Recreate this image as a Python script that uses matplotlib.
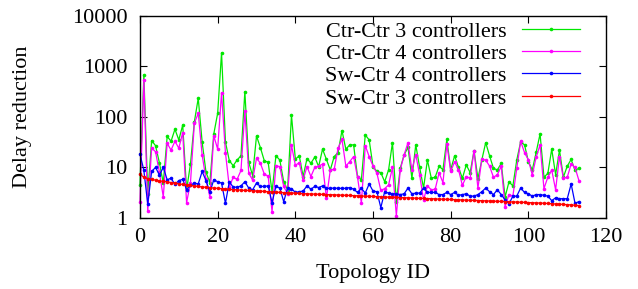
import matplotlib
matplotlib.use("Agg")
import matplotlib.pyplot as plt
import numpy as np

ctr_ctr_3 = [4.5, 680, 3.0, 34, 27, 12.4, 4.9, 41, 33, 57, 35, 69, 3.6, 11.7, 80, 234, 32, 8, 5, 46,
             118, 1870, 32, 13.6, 10.8, 14, 17, 317, 12.6, 6.9, 42, 24.6, 13.6, 12.6, 3.3, 17, 14, 5.2, 3.6, 109,
             14.5, 17, 6.6, 15, 12.1, 16, 10.4, 23, 14.4, 8.9, 16.4, 19.7, 53.6, 23, 27.9, 27.9, 6.6, 5.7, 44, 35,
             10.4, 8.3, 7.9, 5.2, 8.9, 31, 2.1, 9.6, 17.7, 25, 6.1, 28, 10, 3.9, 14, 6.1, 6.4, 10.6, 9, 36,
             9, 17, 10, 6.1, 11.2, 7.9, 21.5, 6, 14, 31, 17, 9.6, 8.9, 12, 2.6, 5.2, 4.3, 14, 32, 28,
             13, 8.9, 20, 46, 6.4, 7.6, 23, 7.2, 22, 6.4, 10.6, 14.4, 8.7, 9.6]

ctr_ctr_4 = [2.1, 540, 1.36, 24, 20.5, 8, 2.6, 30, 22, 33, 24, 49, 2.0, 5, 75, 118, 17.7, 5.8, 2.6, 42,
             23, 302, 19.7, 4.06, 6.4, 5.8, 8.7, 131, 7.7, 5.6, 15.2, 12.1, 7.4, 6.7, 1.33, 10.7, 10.4, 4.2, 3.0, 27.9,
             11, 12.4, 5.7, 10.4, 6.6, 10, 10.6, 11.6, 2.45, 8.9, 9.2, 24, 36, 10.6, 13, 16.4, 6.4, 1.95, 27, 16.4,
             10.6, 7.7, 3.5, 3.8, 4.5, 10, 1.1, 8.9, 17.7, 31, 8.9, 18, 7.1, 2.27, 4.3, 3.6, 3.7, 7.8, 5, 29,
             8.3, 13, 9, 4.4, 6.6, 6.1, 21.5, 3.9, 14.4, 14, 10.6, 6.4, 7.1, 10.6, 1.67, 2.9, 2.7, 9.6, 33, 19.7,
             14, 7.1, 16, 28, 3.8, 6.4, 8.9, 3.6, 16.4, 6.1, 6.4, 11.6, 10, 5.5]

sw_ctr_4 = [18.5, 8.7, 1.87, 8.3, 10, 7.1, 10, 5.7, 6.1, 4.6, 5.5, 5.8, 3.6, 4.4, 4.9, 4.7, 8.3, 5.5, 3.2, 5.7,
            5.2, 4.9, 1.95, 5.2, 4.06, 4.06, 4.3, 5.2, 3.9, 3.6, 4.9, 4.2, 4.2, 4.3, 2.0, 4.2, 3.9, 2.1, 3.9, 3.8,
            3.2, 3.3, 3.4, 4.3, 3.7, 4.2, 4.0, 4.3, 3.85, 3.85, 3.9, 3.85, 3.85, 3.85, 4.0, 3.7, 3.2, 3.85, 3.1, 4.7,
            3.4, 3.3, 1.6, 3.3, 3.1, 3.0, 3.0, 2.9, 3.0, 3.9, 3.0, 3.1, 3.1, 3.9, 3.2, 3.2, 3.2, 2.9, 2.9, 3.2,
            2.9, 3.2, 2.8, 2.9, 3.0, 2.7, 2.7, 2.9, 3.3, 3.9, 3.3, 2.9, 3.6, 2.9, 2.27, 1.9, 2.7, 2.7, 3.9, 3.2,
            3.0, 2.7, 2.9, 2.9, 2.8, 2.7, 2.2, 2.5, 2.4, 2.4, 2.4, 4.7, 1.95, 2.1]

sw_ctr_3 = [7.3, 6.4, 6.0, 5.8, 5.6, 5.4, 5.3, 5.2, 5.0, 4.9, 4.75, 4.6, 4.5, 4.4, 4.3, 4.2, 4.1, 4.05, 4.0, 3.9,
            3.85, 3.8, 3.75, 3.7, 3.65, 3.6, 3.55, 3.5, 3.5, 3.45, 3.4, 3.38, 3.35, 3.3, 3.27, 3.24, 3.2, 3.17, 3.14, 3.11,
            3.08, 3.05, 3.02, 3.0, 2.98, 2.96, 2.94, 2.92, 2.9, 2.88, 2.86, 2.84, 2.82, 2.8, 2.78, 2.76, 2.74, 2.72, 2.7, 2.68,
            2.66, 2.64, 2.62, 2.6, 2.58, 2.57, 2.55, 2.53, 2.51, 2.5, 2.48, 2.46, 2.44, 2.43, 2.41, 2.4, 2.38, 2.36, 2.35, 2.33,
            2.32, 2.3, 2.28, 2.27, 2.25, 2.24, 2.22, 2.21, 2.19, 2.18, 2.16, 2.15, 2.13, 2.12, 2.1, 2.09, 2.07, 2.06, 2.04, 2.03,
            2.01, 2.0, 1.98, 1.97, 1.95, 1.93, 1.91, 1.89, 1.87, 1.85, 1.83, 1.81, 1.78, 1.75]

topology_ids = list(range(len(ctr_ctr_3)))

series = [
    ("Ctr-Ctr 3 controllers", ctr_ctr_3, "#00e800"),
    ("Ctr-Ctr 4 controllers", ctr_ctr_4, "#ff00ff"),
    ("Sw-Ctr 4 controllers", sw_ctr_4, "#0000ff"),
    ("Sw-Ctr 3 controllers", sw_ctr_3, "#ff0000"),
]

x_ticks = [0, 20, 40, 60, 80, 100, 120]
y_ticks = [1, 10, 100, 1000, 10000]
y_tick_labels = ['1', '10', '100', '1000', '10000']

plt.rcParams['font.family'] = ['Liberation Serif', 'DejaVu Serif']

FS = 16
fig = plt.figure(figsize=(6.38, 2.89), dpi=100)
ax = fig.add_axes([0.2194, 0.246, 0.7306, 0.699])

for label, vals, col in series:
    ax.plot(topology_ids, vals, color=col, lw=0.9, marker='o', ms=2.6,
            markeredgewidth=0, label=label, clip_on=False)

ax.set_yscale('log')
ax.set_xlim(0, 120)
ax.set_ylim(1, 10000)
ax.set_xticks(x_ticks)
ax.set_yticks(y_ticks)
ax.set_yticklabels(y_tick_labels)
ax.tick_params(which='both', direction='in', top=True, right=True, labelsize=FS)
ax.tick_params(which='major', length=5, width=0.8)
ax.tick_params(which='minor', length=2.5, width=0.6)
ax.tick_params(axis='x', which='minor', top=False, bottom=False)
ax.tick_params(axis='x', pad=7)
ax.tick_params(axis='y', pad=9)
for s in ax.spines.values():
    s.set_linewidth(1.0)

ax.set_xlabel('Topology ID', fontsize=FS)
ax.set_ylabel('Delay reduction', fontsize=FS)
ax.yaxis.set_label_coords(-0.232, 0.5)
ax.xaxis.set_label_coords(0.5, -0.23)

leg = ax.legend(loc='upper right', frameon=False, fontsize=FS, markerfirst=False,
                handlelength=2.6, handletextpad=0.7, labelspacing=0.08,
                borderaxespad=0.0, borderpad=0.0, numpoints=1,
                bbox_to_anchor=(0.944, 0.975))

fig.savefig('out.png', dpi=100)
